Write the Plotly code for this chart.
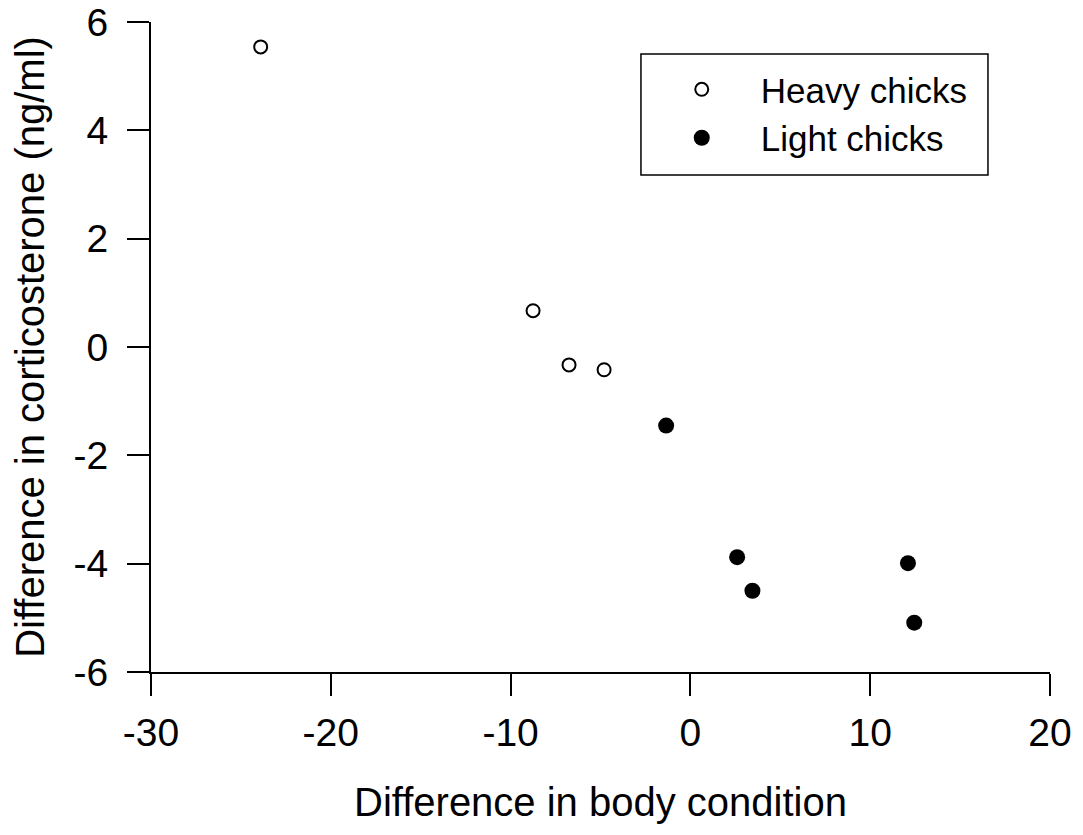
import plotly.graph_objects as go

heavy_x = [-23.9, -8.75, -6.75, -4.8]
heavy_y = [5.54, 0.67, -0.33, -0.42]
light_x = [-1.35, 2.6, 3.45, 12.1, 12.45]
light_y = [-1.45, -3.88, -4.5, -3.99, -5.09]

x_ticks = [-30, -20, -10, 0, 10, 20]
y_ticks = [-6, -4, -2, 0, 2, 4, 6]

font = "Liberation Sans, Arial, sans-serif"

fig = go.Figure()
fig.add_trace(go.Scatter(
    x=heavy_x, y=heavy_y, mode="markers", name="Heavy chicks",
    marker=dict(symbol="circle-open", size=13, color="black", line=dict(width=2, color="black")),
))
fig.add_trace(go.Scatter(
    x=light_x, y=light_y, mode="markers", name="Light chicks",
    marker=dict(symbol="circle", size=16, color="black"),
))

axis_common = dict(
    showgrid=False, zeroline=False, showline=True, linecolor="black", linewidth=2,
    ticks="outside", ticklen=22, tickwidth=2, tickcolor="black",
    tickfont=dict(size=39, color="black", family=font),
    automargin=False, ticklabeloverflow="allow",
)
fig.update_xaxes(range=[-30, 20], tickvals=x_ticks, ticktext=[str(v) for v in x_ticks],
                 ticklabelstandoff=3,
                 title=dict(text="Difference in body condition", font=dict(size=40, color="black", family=font), standoff=35),
                 **axis_common)
fig.update_yaxes(range=[-6, 6], tickvals=y_ticks, ticktext=[str(v) for v in y_ticks],
                 ticklabelstandoff=11,
                 title=dict(text="Difference in corticosterone (ng/ml)", font=dict(size=40, color="black", family=font), standoff=22),
                 **axis_common)

# legend frame
fig.add_shape(type="rect", xref="paper", yref="paper",
              x0=0.545, x1=0.931, y0=0.7646, y1=0.9508,
              line=dict(color="black", width=1.5), fillcolor="rgba(0,0,0,0)", layer="above")

fig.update_layout(
    width=1075, height=827,
    margin=dict(l=143, r=33, t=14, b=163),
    plot_bgcolor="white", paper_bgcolor="white",
    font=dict(family=font, color="black"),
    legend=dict(x=0.547, y=0.9415, xanchor="left", yanchor="top",
                borderwidth=0, bgcolor="rgba(0,0,0,0)",
                font=dict(size=35, color="black", family=font),
                itemwidth=108, tracegroupgap=0),
)

fig.write_html("out.html")
